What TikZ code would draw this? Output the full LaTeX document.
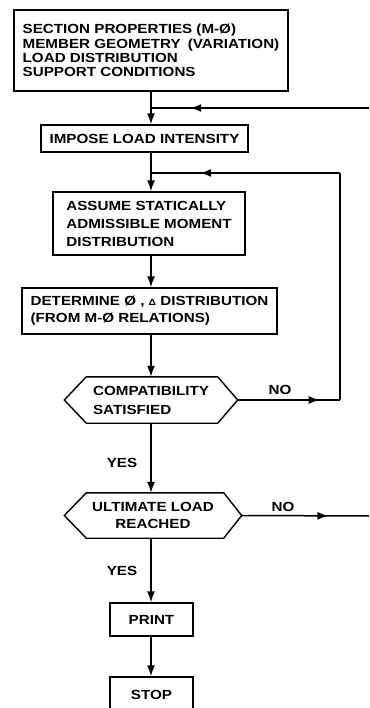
\documentclass[tikz,border=0pt]{standalone}
\usepackage{fontspec}
\setmainfont{Liberation Sans}
\newfontfamily\flowfont{Liberation Sans Bold}[FakeStretch=1.15]
\usetikzlibrary{arrows.meta,decorations.markings,calc}
\newcommand{\fs}{\flowfont\fontsize{13.2}{14.6}\selectfont}
\tikzset{
  box/.style={draw, line width=1.4pt, rectangle, align=left, inner sep=0pt, font=\fs},
  hexa/.style={rectangle, inner sep=0pt, font=\fs},
  hexline/.style={line width=1.4pt, line join=miter},
  flow/.style={line width=1.5pt},
  tip/.style={-{Latex[length=11pt,width=8pt]}},
  midarrow/.style={postaction={decorate}, decoration={markings, mark=at position #1 with {\arrow{Latex[length=11pt,width=8pt]}}}},
  lbl/.style={font=\fs, inner sep=0pt}
}
\begin{document}
\begin{tikzpicture}[x=1pt,y=-1pt]
\useasboundingbox (0,0) rectangle (369,708);
\coordinate (sp) at (151,0);
% boxes
\node[box, minimum width=274pt, minimum height=81pt] (b1) at (151,50.5)
  {\baselineskip=14.6pt SECTION PROPERTIES (M-Ø)\\[-0.3pt]MEMBER GEOMETRY\hspace{3pt} (VARIATION)\\[-0.3pt]LOAD DISTRIBUTION\\[-0.3pt]SUPPORT CONDITIONS};
\node[box, minimum width=207pt, minimum height=27pt] (b2) at (144.5,138.5) {IMPOSE LOAD INTENSITY};
\node[box, minimum width=192pt, minimum height=63pt] (b3) at (149,223.5)
  {ASSUME STATICALLY\\[3.4pt]ADMISSIBLE MOMENT\\[3.4pt]DISTRIBUTION};
\node[box, minimum width=255pt, minimum height=46pt] (b4) at (149.5,311)
  {DETERMINE Ø , {\fontsize{9}{9}\selectfont Δ} DISTRIBUTION\\[2.4pt](FROM M-Ø RELATIONS)};
% hexagons
\node[hexa, minimum width=173pt, minimum height=46pt, align=left] (h1) at (151,400)
  {COMPATIBILITY\\[4.4pt]SATISFIED};
\draw[hexline] (h1.west) -- ([xshift=22pt]h1.north west) -- ([xshift=-20pt]h1.north east) -- (h1.east)
  -- ([xshift=-20pt]h1.south east) -- ([xshift=22pt]h1.south west) -- cycle;
\node[hexa, minimum width=177pt, minimum height=45pt, align=center] (h2) at (153,515.5)
  {ULTIMATE LOAD\\[2.4pt]REACHED};
\draw[hexline] (h2.west) -- ([xshift=22pt]h2.north west) -- ([xshift=-18pt]h2.north east) -- (h2.east)
  -- ([xshift=-18pt]h2.south east) -- ([xshift=22pt]h2.south west) -- cycle;
\node[box, minimum width=83pt, minimum height=33pt] (pr) at (151.5,619.5) {PRINT};
\node[box, minimum width=83pt, minimum height=36pt] (st) at (151.5,695) {STOP};
% labels
\node[lbl] (no1) at (280,390) {NO};
\node[lbl] (no2) at (283,507) {NO};
\node[lbl] (yes1) at (122,463) {YES};
\node[lbl] (yes2) at (122,571) {YES};
% coordinates for loops
\coordinate (r1) at (369,108);
\coordinate (j1) at (151,108);
\coordinate (c2) at (340,400);
\coordinate (c3) at (340,173);
\coordinate (j2) at (151,173);
\coordinate (r2) at (369,516);
% main flow
\draw[flow, tip] (sp |- b1.south) -- (sp |- b2.north);
\draw[flow, tip] (sp |- b2.south) -- (sp |- b3.north);
\draw[flow, tip] (sp |- b3.south) -- (sp |- b4.north);
\draw[flow, tip] (sp |- b4.south) -- (sp |- h1.north);
\draw[flow, tip] (sp |- h1.south) -- (sp |- h2.north);
\draw[flow, tip] (sp |- h2.south) -- (sp |- pr.north);
\draw[flow, tip] (sp |- pr.south) -- (sp |- st.north);
% loops
\draw[flow, midarrow=0.82] (r1) -- (j1);
\draw[flow, midarrow=0.8] (h1.east) -- (c2);
\draw[flow] (c2) -- (c3);
\draw[flow, midarrow=0.74] (c3) -- (j2);
\draw[flow, midarrow=0.68] (h2.east) -- (r2);
\end{tikzpicture}
\end{document}
